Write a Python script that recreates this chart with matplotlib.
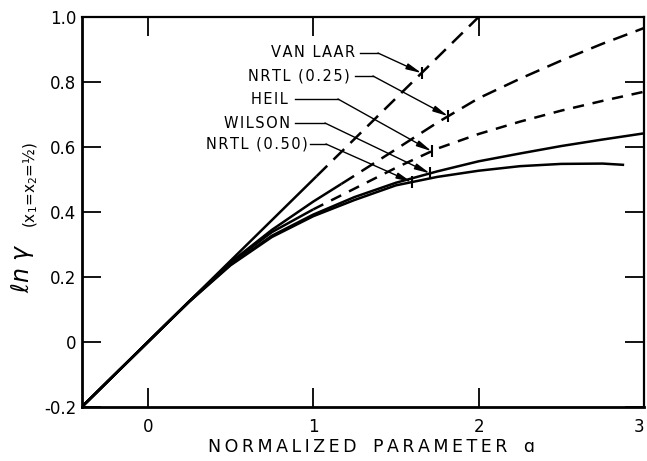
import numpy as np
import matplotlib
matplotlib.use("Agg")
import matplotlib.pyplot as plt

# ---------------- data ----------------
x_grid = [-0.4, 0.0, 0.25, 0.5, 0.75, 1.0, 1.25, 1.5, 1.75, 2.0, 2.25, 2.5, 2.75, 3.0]

vanlaar_x = [-0.4, 0.0, 1.0, 2.0]
vanlaar_y = [-0.2, 0.0, 0.5, 1.0]

nrtl25_y = [-0.2, 0.0, 0.125, 0.245, 0.345, 0.432, 0.512, 0.593, 0.675, 0.750, 0.810, 0.866, 0.918, 0.966]
heil_y   = [-0.2, 0.0, 0.125, 0.243, 0.338, 0.408, 0.472, 0.536, 0.595, 0.640, 0.678, 0.712, 0.742, 0.770]
wilson_y = [-0.2, 0.0, 0.124, 0.238, 0.327, 0.392, 0.446, 0.490, 0.525, 0.556, 0.580, 0.603, 0.623, 0.642]

nrtl50_x = [-0.4, 0.0, 0.25, 0.5, 0.75, 1.0, 1.25, 1.5, 1.75, 2.0, 2.25, 2.5, 2.75, 2.88]
nrtl50_y = [-0.2, 0.0, 0.124, 0.236, 0.323, 0.387, 0.437, 0.482, 0.508, 0.527, 0.541, 0.548, 0.549, 0.545]

labels = ["VAN LAAR", "NRTL (0.25)", "HEIL", "WILSON", "NRTL (0.50)"]
# x where each leader arrow meets its curve
arrow_x = [1.655, 1.816, 1.716, 1.706, 1.595]
# where solid part ends and dashed begins (None = all solid)
dash_from = [1.02, 1.17, 1.0, None, None]

x_ticks = [0, 1, 2, 3]
x_ticklabels = ["0", "1", "2", "3"]
y_ticks = [-0.2, 0.0, 0.2, 0.4, 0.6, 0.8, 1.0]
y_ticklabels = ["-0.2", "0", "0.2", "0.4", "0.6", "0.8", "1.0"]


def spaced(s, sep):
    return sep.join(s)


# ---------------- figure ----------------
W, H = 647, 461
fig = plt.figure(figsize=(W / 100, H / 100), dpi=100)
ax = fig.add_axes([81.7 / W, 1 - 407 / H, (644 - 81.7) / W, (407 - 17) / H])
ax.set_xlim(-0.4, 3.0)
ax.set_ylim(-0.2, 1.0)

curves = [
    (np.array(vanlaar_x), np.array(vanlaar_y)),
    (np.array(x_grid), np.array(nrtl25_y)),
    (np.array(x_grid), np.array(heil_y)),
    (np.array(x_grid), np.array(wilson_y)),
    (np.array(nrtl50_x), np.array(nrtl50_y)),
]
dash_styles = [(0, (6, 3.5)), (0, (6, 3.5)), (0, (4.5, 3.5)), None, None]
lw = 1.8

for (cx, cy), d0, ds in zip(curves, dash_from, dash_styles):
    if d0 is None:
        ax.plot(cx, cy, color="black", lw=lw, solid_capstyle="butt")
    else:
        yd = np.interp(d0, cx, cy)
        m = cx < d0
        sx = np.concatenate([cx[m], [d0]])
        sy = np.concatenate([cy[m], [yd]])
        ax.plot(sx, sy, color="black", lw=lw, solid_capstyle="butt")
        m2 = cx > d0
        dx = np.concatenate([[d0], cx[m2]])
        dy = np.concatenate([[yd], cy[m2]])
        ax.plot(dx, dy, color="black", lw=lw, linestyle=ds, dash_capstyle="butt")


# ---------------- labels with leader arrows ----------------
def px2data(px, py):
    return (px - 147.9) / 165.4, (407 - py) / 325.0 - 0.2


# (text right end px, leader y px, horizontal start px, elbow px)
leaders = [
    (355, 53, 360, 378),
    (350, 76, 355, 373),
    (288, 99, 295, 338),
    (290, 123, 295, 325),
    (308, 144, 310, 326),
]
for lab, ax_x, (cx, cy), (tr, ly, hs, el) in zip(labels, arrow_x, curves, leaders):
    tx, ty = px2data(tr, ly)
    hx, _ = px2data(hs, ly)
    ex, _ = px2data(el, ly)
    tipy = np.interp(ax_x, cx, cy)
    ax.text(tx, ty, spaced(lab, "\u200a"), ha="right", va="center", fontsize=10.5,
            family="DejaVu Sans")
    ax.plot([hx, ex], [ty, ty], color="black", lw=1.0)
    ax.annotate("", xy=(ax_x, tipy), xytext=(ex, ty),
                arrowprops=dict(arrowstyle="-|>,head_length=0.9,head_width=0.18",
                                lw=1.0, color="black", shrinkA=0, shrinkB=0))
    ax.plot([ax_x], [tipy], marker="|", ms=9, mew=1.5, color="black")

# ---------------- axes styling ----------------
ax.set_xticks(x_ticks)
ax.set_xticklabels(x_ticklabels)
ax.set_yticks(y_ticks)
ax.set_yticklabels(y_ticklabels)
ax.tick_params(direction="in", length=14, width=1.3, labelsize=12,
               top=True, right=True)
ax.tick_params(axis="x", pad=8)
ax.tick_params(axis="y", pad=4)
ax.get_xticklabels()[-1].set_horizontalalignment("right")
for side in ["left", "bottom"]:
    ax.spines[side].set_linewidth(2.0)
for side in ["top", "right"]:
    ax.spines[side].set_linewidth(1.6)

xl = spaced("NORMALIZED", "\u2009") + "   " + spaced("PARAMETER", "\u2009") + "   ɑ"
ax.set_xlabel(xl, fontsize=12.5)
ax.xaxis.set_label_coords(0.516, -0.103)
ax.xaxis.label.set_verticalalignment("center")

fig.text(22 / W, 1 - 268 / H, r"$\ell n\ \gamma$", rotation=90, fontsize=17,
         ha="center", va="center")
fig.text(31 / W, 1 - 185 / H, r"(x$_1$=x$_2$=½)", rotation=90, fontsize=11,
         ha="center", va="center")

fig.savefig("out.png", dpi=100)
